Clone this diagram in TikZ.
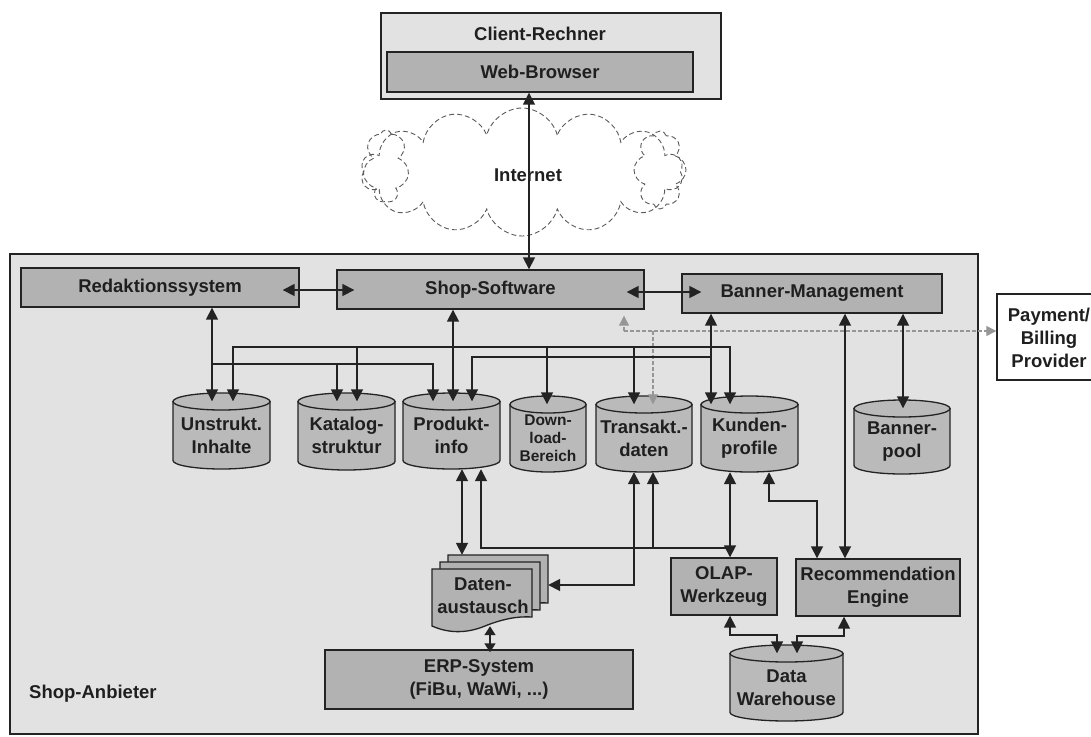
\documentclass[tikz,border=0pt]{standalone}
\usepackage{fontspec}
\setmainfont{Liberation Sans}
\usetikzlibrary{arrows.meta,shapes.symbols}

\definecolor{linecol}{RGB}{35,35,35}
\definecolor{panel}{RGB}{226,226,226}
\definecolor{boxfill}{RGB}{178,178,178}
\definecolor{cylfill}{RGB}{186,186,186}
\definecolor{paygray}{RGB}{150,150,150}
\definecolor{cloudcol}{RGB}{90,90,90}

\tikzset{
  lbl/.style={font=\fontsize{18.5}{23}\selectfont\bfseries, text=black!88, align=center, inner sep=0pt},
  smalllbl/.style={font=\fontsize{15.5}{18}\selectfont\bfseries},
  panelbox/.style={draw=linecol, line width=1.4pt, fill=panel, inner sep=0pt},
  block/.style={lbl, draw=linecol, line width=1.4pt, fill=boxfill},
  cylbody/.style={draw=linecol, line width=1.3pt, fill=cylfill},
  tipend/.tip={Triangle[length=12pt,width=12pt]},
  tipshort/.tip={Triangle[length=9pt,width=11pt]},
  arr/.style={draw=linecol, line width=1.7pt, -tipend},
  dbl/.style={draw=linecol, line width=1.7pt, tipend-tipend},
  dblshort/.style={draw=linecol, line width=1.7pt, tipshort-tipshort},
  grayarr/.style={draw=paygray, line width=1.3pt, dash pattern=on 4pt off 2pt, -{Triangle[length=10pt,width=10pt]}},
  cloudpart/.style={cloud, cloud ignores aspect, draw=cloudcol, line width=0.9pt, dash pattern=on 5pt off 3pt},
}

% database cylinder: name, left x, right x, top y, bottom y, extra label options, text
\newcommand\dbcyl[7]{%
  \pgfmathsetmacro\cylcx{(#2+#3)/2}%
  \pgfmathsetmacro\cylrx{(#3-#2)/2}%
  \pgfmathsetmacro\cylcy{(#4+8.5+#5)/2}%
  \pgfmathsetmacro\cylh{#5-#4-8.5}%
  \filldraw[cylbody] (#2,#4+8.5) -- (#2,#5-8.5)
     arc[start angle=180,end angle=360,x radius=\cylrx pt,y radius=8.5pt]
     -- (#3,#4+8.5) -- cycle;
  \filldraw[cylbody] (\cylcx,#4+8.5) ellipse[x radius=\cylrx pt,y radius=8.5pt];
  \node[lbl,#6,minimum width=2*\cylrx,minimum height=\cylh] (#1) at (\cylcx,\cylcy) {#7};
}

\begin{document}
\begin{tikzpicture}[x=1pt,y=-1pt]
\useasboundingbox (0,0) rectangle (1091,736);
\clip (0,0) rectangle (1091,736);

% client side
\node[panelbox, minimum width=340, minimum height=86] (client) at (551,56) {};
\node[lbl] (clienttxt) at (540,34) {Client-Rechner};
\node[block, minimum width=306, minimum height=40] (web) at (540,72) {Web-Browser};

% internet cloud
\node[cloudpart, cloud puffs=7, minimum width=46, minimum height=72] (netl) at (386,166) {};
\node[cloudpart, cloud puffs=8, minimum width=52, minimum height=78] (netr) at (660,170) {};
\node[cloudpart, cloud puffs=14, minimum width=322, minimum height=128] (net) at (522,172) {};
\node[lbl] (nettxt) at (528,175) {Internet};

% shop provider panel
\node[panelbox, minimum width=968, minimum height=480] (anb) at (494,494) {};
\node[lbl, anchor=west] (anbtxt) at (29,694) {Shop-Anbieter};

% external payment provider
\node[draw=linecol, line width=1.4pt, fill=white, minimum width=110, minimum height=86] (pay) at (1052,337) {};
\node[lbl] (paytxt) at (1049,338) {Payment/\\Billing\\Provider};

% systems
\node[block, minimum width=278, minimum height=39] (red) at (160,287.5) {Redaktionssystem};
\node[block, minimum width=307, minimum height=39] (shop) at (490.5,289.5) {Shop-Software};
\node[block, minimum width=260, minimum height=39] (ban) at (812,293.5) {Banner-Management};
\node[block, minimum width=106, minimum height=57] (olap) at (724,586.5) {OLAP-\\Werkzeug};
\node[block, minimum width=164, minimum height=57] (rec) at (878,587.5) {Recommendation\\Engine};
\node[block, minimum width=308, minimum height=59] (erp) at (479,679.5) {ERP-System\\(FiBu, WaWi, ...)};

% data stores
\dbcyl{unstr}{173}{270}{393}{469}{}{Unstrukt.\\Inhalte}
\dbcyl{kat}{298}{395}{393}{470}{}{Katalog-\\struktur}
\dbcyl{prod}{403}{500}{393}{469}{}{Produkt-\\info}
\dbcyl{down}{510}{586}{396}{472}{smalllbl}{Down-\\load-\\Bereich}
\dbcyl{trans}{596}{692}{396}{472}{}{Transakt.-\\daten}
\dbcyl{kund}{701}{798}{396}{472}{}{Kunden-\\profile}
\dbcyl{bpool}{854}{950}{400}{474}{}{Banner-\\pool}
\dbcyl{dw}{730}{843}{645}{721}{}{Data\\Warehouse}

% data exchange: stacked documents
\foreach \dx/\dy in {16/-14, 8/-7, 0/0} {
  \filldraw[cylbody, fill=boxfill, shift={(\dx,\dy)}]
    (432,569) -- (532,569) -- (532,617)
    .. controls (515,616) and (500,620) .. (485,626)
    .. controls (468,633) and (450,634) .. (432,626) -- cycle;
}
\node[minimum width=116, minimum height=73, inner sep=0pt] (daten) at (490,591.5) {};
\node[lbl] (datentxt) at (483,596) {Daten-\\austausch};

% internet link
\draw[dbl] (529,0 |- web.south) -- (529,0 |- shop.north);

% links between the top systems
\draw[dbl, shorten <=-17pt, shorten >=-18pt] (red.east |- 0,290) -- (shop.west |- 0,290);
\draw[dbl, shorten <=-18pt, shorten >=-20pt] (shop.east |- 0,292) -- (ban.west |- 0,292);

% payment provider (grey, dashed)
\coordinate (gj) at (624,331);
\coordinate (gk) at (653,331);
\draw[grayarr] (gj) -- (pay.west |- gj);
\draw[grayarr, shorten >=6pt] (gj) -- (gj |- shop.south);
\draw[grayarr] (gk) -- (gk |- trans.north);

% shop software to data stores
\coordinate (sj) at (453,347);
\draw[dbl] (453,0 |- shop.south) -- (453,0 |- prod.north);
\draw[arr] (sj) -| (233,0 |- unstr.north);
\draw[arr] (sj) -| (730,0 |- kund.north);
\draw[arr] (357,347) -- (357,0 |- kat.north);
\draw[arr] (547,347) -- (547,0 |- down.north);
\draw[arr] (634,347) -- (634,0 |- trans.north);

% editorial system to data stores
\coordinate (rj) at (212,364);
\draw[dbl] (212,0 |- red.south) -- (212,0 |- unstr.north);
\draw[arr] (rj) -| (433,0 |- prod.north);
\draw[arr] (337,364) -- (337,0 |- kat.north);

% banner management
\coordinate (bj) at (711,357);
\draw[dbl] (711,0 |- ban.south) -- (711,0 |- kund.north);
\draw[arr] (bj) -| (472,0 |- prod.north);
\draw[dbl] (845,0 |- ban.south) -- (845,0 |- rec.north);
\draw[dbl] (903,0 |- ban.south) -- (903,0 |- bpool.north);

% lower connections
\draw[dbl] (462,0 |- prod.south) -- (462,0 |- daten.north);
\coordinate (oj) at (730,548);
\draw[arr] (oj) -| (481,0 |- prod.south);
\draw[arr] (653,548) -- (653,0 |- trans.south);
\draw[dbl] (730,0 |- kund.south) -- (730,0 |- olap.north);
\draw[dbl] (634,0 |- trans.south) |- (daten.east |- 0,585);
\draw[dbl] (769,0 |- kund.south) |- (817,501) -- (817,0 |- rec.north);
\draw[dblshort, shorten <=-2pt, shorten >=-3pt] (490,0 |- daten.south) -- (490,0 |- erp.north);
\draw[dbl] (730,0 |- olap.south) |- (777,635) -- (777,0 |- dw.north);
\draw[dbl] (844,0 |- rec.south) |- (797,636) -- (797,0 |- dw.north);

\end{tikzpicture}
\end{document}
